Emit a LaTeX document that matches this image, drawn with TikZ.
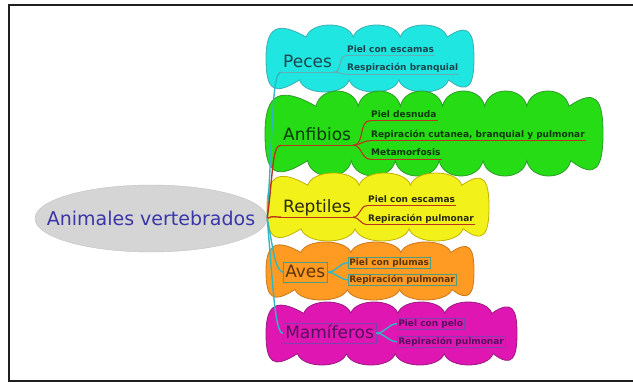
\documentclass[tikz,border=0pt]{standalone}
\usepackage{fontspec}
\setmainfont{DejaVu Sans}
\usetikzlibrary{shapes.geometric}

\definecolor{pecesfill}{HTML}{1FE6E0}
\definecolor{pecesedge}{HTML}{3AAFB4}
\definecolor{anffill}{HTML}{26DC14}
\definecolor{anfedge}{HTML}{2E9B2A}
\definecolor{repfill}{HTML}{F2F21A}
\definecolor{repedge}{HTML}{C4B000}
\definecolor{avesfill}{HTML}{FF9A22}
\definecolor{avesedge}{HTML}{C8781E}
\definecolor{mamfill}{HTML}{E016B2}
\definecolor{mamedge}{HTML}{981C80}
\definecolor{linkteal}{HTML}{2FB7C4}
\definecolor{linkred}{HTML}{BC3320}
\definecolor{pecesrule}{HTML}{62AEB6}
\definecolor{boxgreen}{HTML}{4E9C84}
\definecolor{boxpurple}{HTML}{8040B0}
\definecolor{maintext}{HTML}{3A36A8}
\definecolor{ovalfill}{HTML}{D5D5D5}
\definecolor{ovaledge}{HTML}{C2C2C2}
\definecolor{pecestext}{HTML}{1B4650}
\definecolor{anftext}{HTML}{0E380E}
\definecolor{reptext}{HTML}{2A2A10}
\definecolor{avestext}{HTML}{5A3608}
\definecolor{mamtext}{HTML}{561060}

% Scalloped cloud: #1 options, #2 left x, #3 top y, #4 right x, #5 bottom y,
% #6 bumps along the top, #7 bumps along the bottom
\newcommand\cloudblob[7]{%
  \pgfmathsetmacro\Ch{#3-#5}%
  \pgfmathsetmacro\Cm{(#3+#5)/2}%
  \pgfmathsetmacro\Cd{0.18*\Ch}%
  \pgfmathsetmacro\Cta{#2+0.6*\Ch}%
  \pgfmathsetmacro\Ctb{#4-0.4*\Ch}%
  \pgfmathsetmacro\Cs{(\Ctb-\Cta)/#6}%
  \pgfmathsetmacro\Cua{#2+0.5*\Ch}%
  \pgfmathsetmacro\Cub{#4-0.38*\Ch}%
  \pgfmathsetmacro\Cu{(\Cub-\Cua)/#7}%
  \path[#1] ({#2},{\Cm})
    .. controls ({#2},{#3-0.02*\Ch}) and ({\Cta-0.42*\Ch},{#3+0.06*\Ch}) .. ({\Cta},{#3-\Cd})
    \foreach \i in {1,...,#6}{
      .. controls ({\Cta+(\i-0.9)*\Cs},{#3+\Cd/3}) and ({\Cta+(\i-0.1)*\Cs},{#3+\Cd/3}) .. ({\Cta+\i*\Cs},{#3-\Cd})
    }
    .. controls ({\Ctb+0.32*\Ch},{#3+0.04*\Ch}) and ({#4},{#3-0.1*\Ch}) .. ({#4},{\Cm})
    .. controls ({#4},{#5+0.1*\Ch}) and ({\Cub+0.3*\Ch},{#5-0.05*\Ch}) .. ({\Cub},{#5+\Cd})
    \foreach \i in {1,...,#7}{
      .. controls ({\Cub-(\i-0.9)*\Cu},{#5-\Cd/3}) and ({\Cub-(\i-0.1)*\Cu},{#5-\Cd/3}) .. ({\Cub-\i*\Cu},{#5+\Cd})
    }
    .. controls ({\Cua-0.38*\Ch},{#5-0.06*\Ch}) and ({#2},{#5+0.02*\Ch}) .. ({#2},{\Cm})
    -- cycle;%
}

\begin{document}
\begin{tikzpicture}[x=1pt,y=1pt,
  topic/.style={anchor=base west,inner sep=2pt,text height=12.5pt,text depth=3pt,
                font=\fontsize{17}{20}\selectfont},
  leaf/.style={anchor=base west,inner sep=1pt,text height=7pt,text depth=2.5pt,
               font=\fontsize{9}{11}\selectfont\bfseries},
  rule/.style={line width=1.1pt},
  link/.style={line width=1.4pt},
  tbox/.style={draw,line width=0.5pt},
  cloudline/.style={line width=0.8pt}]

\useasboundingbox (0,0) rectangle (633,-383);
\fill[white] (0,0) rectangle (633,-383);
\draw[line width=2.2pt,black!88] (9,-5) rectangle (660,-381);

% cloud backgrounds of the five classes
\cloudblob{fill=pecesfill,draw=pecesedge,cloudline}{266}{-25}{474}{-92}{3}{3}
\cloudblob{fill=anffill,draw=anfedge,cloudline}{265}{-91}{603}{-176}{6}{6}
\cloudblob{fill=repfill,draw=repedge,cloudline}{267}{-173}{489}{-241}{3}{3}
\cloudblob{fill=avesfill,draw=avesedge,cloudline}{266}{-242}{474}{-300}{3}{3}
\cloudblob{fill=mamfill,draw=mamedge,cloudline}{266}{-302}{517}{-365}{4}{4}

% central topic: grey oval with its title
\node[ellipse,fill=ovalfill,draw=ovaledge,minimum width=232pt,minimum height=67pt,
      inner sep=0pt] (root) at (151,-218.5) {};
\node[text=maintext,font=\fontsize{19}{22}\selectfont,inner sep=0pt]
  (rootlabel) at (root.center) {Animales vertebrados};

% Peces
\node[topic,text=pecestext] (peces) at (281,-67) {Peces};
\node[leaf,text=pecestext] (peces1) at (346,-52) {Piel con escamas};
\node[leaf,text=pecestext] (peces2) at (346,-70.5) {Respiración branquial};

% Anfibios
\node[topic,text=anftext] (anf) at (281,-140) {Anfibios};
\node[leaf,text=anftext] (anf1) at (370,-117) {Piel desnuda};
\node[leaf,text=anftext] (anf2) at (370,-137) {Repiración cutanea, branquial y pulmonar};
\node[leaf,text=anftext] (anf3) at (370,-155.5) {Metamorfosis};

% Reptiles
\node[topic,text=reptext] (rep) at (281,-212) {Reptiles};
\node[leaf,text=reptext] (rep1) at (367,-202) {Piel con escamas};
\node[leaf,text=reptext] (rep2) at (367,-221) {Repiración pulmonar};

% Aves
\node[topic,tbox,draw=boxgreen,text=avestext] (aves) at (283,-277) {Aves};
\node[leaf,tbox,draw=boxgreen,text=avestext] (aves1) at (348,-265) {Piel con plumas};
\node[leaf,tbox,draw=boxgreen,text=avestext] (aves2) at (348,-282) {Repiración pulmonar};

% Mamiferos
\node[topic,tbox,draw=boxpurple,text=mamtext] (mam) at (283,-338) {Mamíferos};
\node[leaf,tbox,draw=boxpurple,text=mamtext] (mam1) at (397,-326) {Piel con pelo};
\node[leaf,tbox,draw=boxpurple,text=mamtext] (mam2) at (397,-344) {Repiración pulmonar};

% underlines and brackets inside Peces
\foreach \n in {peces,peces1,peces2}
  \draw[rule,pecesrule] (\n.south west) -- (\n.south east);
\foreach \n in {peces1,peces2}
  \draw[rule,pecesrule] (peces.south east) to[out=0,in=180] (\n.south west);

% underlines and brackets inside Anfibios
\foreach \n in {anf,anf1,anf2,anf3}
  \draw[rule,linkred] (\n.south west) -- (\n.south east);
\foreach \n in {anf1,anf2,anf3}
  \draw[rule,linkred] (anf.south east) to[out=0,in=180] (\n.south west);

% underlines and brackets inside Reptiles
\foreach \n in {rep,rep1,rep2}
  \draw[rule,linkred] (\n.south west) -- (\n.south east);
\foreach \n in {rep1,rep2}
  \draw[rule,linkred] (rep.south east) to[out=0,in=180] (\n.south west);

% brackets inside Aves and Mamiferos
\foreach \n in {aves1,aves2}
  \draw[link,linkteal] (aves.east) to[out=0,in=180] (\n.west);
\foreach \n in {mam1,mam2}
  \draw[link,linkteal] (mam.east) to[out=0,in=180] (\n.west);

% branches from the central topic
\draw[link,linkteal] (root.east) .. controls +(6,95) and +(-9,0) .. (peces.south west);
\draw[link,linkred] (root.east) .. controls +(6,45) and +(-9,0) .. (anf.south west);
\draw[link,linkred] (root.east) .. controls +(5,3) and +(-6,0) .. (rep.south west);
\draw[link,linkteal] (root.east) .. controls +(6,-30) and +(-8,2) .. (aves.west);
\draw[link,linkteal] (root.east) .. controls +(6,-70) and +(-8,0) .. (mam.west);
\end{tikzpicture}
\end{document}
